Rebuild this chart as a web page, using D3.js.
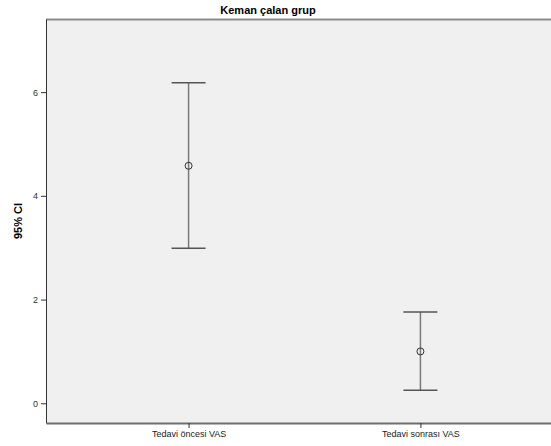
<!DOCTYPE html>
<html>
<head>
<meta charset="utf-8">
<script src="https://cdn.jsdelivr.net/npm/d3@7"></script>
<style>
  body { margin: 0; background: #fff; }
  svg { display: block; font-family: Arial, "Liberation Sans", sans-serif; }
</style>
</head>
<body>
<svg width="551" height="446"></svg>
<script>
// data
var categories = ["Tedavi öncesi VAS", "Tedavi sonrası VAS"];
var means = [4.58, 1.0];
var lower = [2.99, 0.25];
var upper = [6.18, 1.76];
var yTicks = [0, 2, 4, 6];

var svg = d3.select("svg");
var margin = { top: 19, right: -12, bottom: 23, left: 46 };
var width = 551 - margin.left - margin.right;
var height = 446 - margin.top - margin.bottom;

var x = d3.scalePoint().domain(categories).range([0, width]).padding(0.615);
var y = d3.scaleLinear().domain([-0.38, 7.41]).range([height, 0]);

svg.append("text")
    .attr("x", 268).attr("y", 14)
    .attr("text-anchor", "middle")
    .style("font-size", "11px").style("font-weight", "bold")
    .text("Keman çalan grup");

var g = svg.append("g").attr("transform", "translate(" + margin.left + "," + margin.top + ")");

g.append("rect")
    .attr("width", width).attr("height", height)
    .attr("fill", "#f0f0f0");

// top frame line
g.append("line").attr("x1", 0).attr("x2", width).attr("y1", 0.5).attr("y2", 0.5)
    .attr("stroke", "#8c8c8c").attr("stroke-width", 2);

var yAxis = g.append("g")
    .call(d3.axisLeft(y).tickValues(yTicks).tickSize(5).tickSizeOuter(0).tickPadding(3));
yAxis.select(".domain").attr("stroke", "#333");
yAxis.selectAll(".tick line").attr("stroke", "#333");
yAxis.selectAll(".tick text").attr("fill", "#333").style("font-size", "9px").style("font-family", "Arial, sans-serif");

var xAxis = g.append("g")
    .attr("transform", "translate(0," + height + ")")
    .call(d3.axisBottom(x).tickSize(5).tickSizeOuter(0).tickPadding(3));
xAxis.select(".domain").attr("stroke", "#6e6e6e").attr("stroke-width", 2);
xAxis.selectAll(".tick line").attr("stroke", "#333");
xAxis.selectAll(".tick text").attr("fill", "#222").style("font-size", "9px").style("font-family", "Arial, sans-serif");

svg.append("text")
    .attr("transform", "translate(22," + (margin.top + height / 2) + ") rotate(-90)")
    .attr("text-anchor", "middle")
    .style("font-size", "11px").style("font-weight", "bold")
    .text("95% CI");

var bars = g.selectAll(".ci")
    .data(categories.map(function (c, i) { return { cat: c, mean: means[i], lo: lower[i], hi: upper[i] }; }))
    .enter().append("g").attr("class", "ci");

bars.append("line")
    .attr("x1", function (d) { return x(d.cat); })
    .attr("x2", function (d) { return x(d.cat); })
    .attr("y1", function (d) { return y(d.hi); })
    .attr("y2", function (d) { return y(d.lo); })
    .attr("stroke", "#7a7a7a").attr("stroke-width", 1.5);

["hi", "lo"].forEach(function (k) {
    bars.append("line")
        .attr("x1", function (d) { return x(d.cat) - 17; })
        .attr("x2", function (d) { return x(d.cat) + 17; })
        .attr("y1", function (d) { return y(d[k]); })
        .attr("y2", function (d) { return y(d[k]); })
        .attr("stroke", "#555").attr("stroke-width", 1.5);
});

bars.append("circle")
    .attr("cx", function (d) { return x(d.cat); })
    .attr("cy", function (d) { return y(d.mean); })
    .attr("r", 3.5)
    .attr("fill", "none")
    .attr("stroke", "#333").attr("stroke-width", 1);
</script>
</body>
</html>
